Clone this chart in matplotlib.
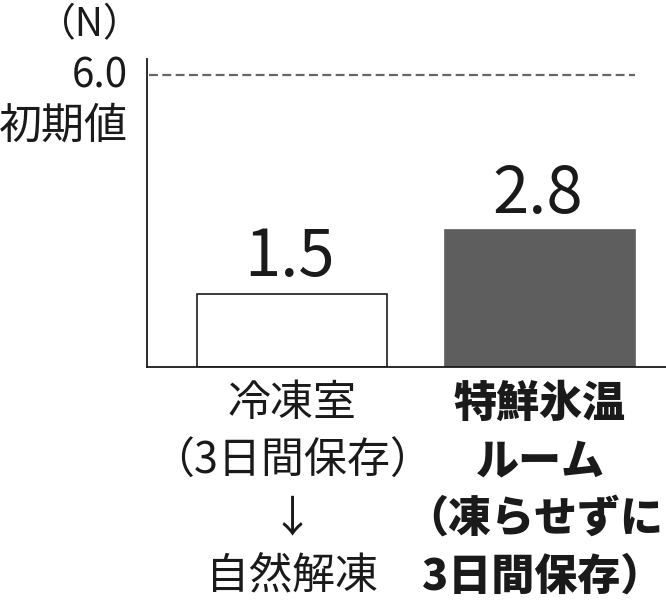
import matplotlib
matplotlib.use("Agg")
import matplotlib.pyplot as plt

plt.rcParams['font.family'] = ['Noto Sans CJK JP', 'DejaVu Sans']

# data
categories = [
    ["冷凍室", "（3日間保存）", "↓", "自然解凍"],
    ["特鮮氷温", "ルーム", "（凍らせずに", "3日間保存）"],
]
values = [1.5, 2.8]
value_labels = ["1.5", "2.8"]
initial_value = 6.0
initial_label = "6.0"
initial_name = "初期値"
unit_label = "（N）"

bar_faces = ["white", "#5e5e5e"]
bar_edges = ["#1a1a1a", "#5e5e5e"]
label_weights = ["normal", "heavy"]

fig = plt.figure(figsize=(6.66, 6.09), dpi=100)
W, H = 666, 609
ax_left, ax_right, ax_bottom, ax_top = 147, 666, 366.5, 59
ax = fig.add_axes([ax_left / W, (H - ax_bottom) / H,
                   (ax_right - ax_left) / W, (ax_bottom - ax_top) / H])

x = list(range(len(values)))
ax.bar(x, values, width=0.766, color=bar_faces, edgecolor=bar_edges,
       linewidth=1.2, zorder=2)
ax.set_xlim(-0.585, 1.508)
ax.set_ylim(0, 6.33)

ax.axhline(initial_value, xmin=0.004, xmax=0.94, color="#666666",
           linewidth=1.6, linestyle=(0, (4, 2)), zorder=1)

for s in ["top", "right"]:
    ax.spines[s].set_visible(False)
for s in ["left", "bottom"]:
    ax.spines[s].set_linewidth(1.3)
    ax.spines[s].set_color("#1a1a1a")
ax.set_xticks([])
ax.set_yticks([])

# value labels
for xi, v, lab in zip(x, values, value_labels):
    ax.annotate(lab, xy=(xi, v), xytext=(-2, 12.5), textcoords="offset points",
                ha="center", va="baseline", fontsize=47, color="#1a1a1a")

# y annotations
ax.annotate(initial_label, xy=(0, initial_value), xycoords=("axes fraction", "data"),
            xytext=(-14, -1), textcoords="offset points", ha="right", va="center",
            fontsize=29, color="#1a1a1a")
ax.annotate(initial_name, xy=(0, initial_value), xycoords=("axes fraction", "data"),
            xytext=(-14, -37), textcoords="offset points", ha="right", va="center",
            fontsize=31, color="#1a1a1a")
fig.text(90 / W, 1 - 25 / H, unit_label, ha="center", va="center",
         fontsize=28, color="#1a1a1a")

# category labels
for xi, lines, wt in zip(x, categories, label_weights):
    for k, line in enumerate(lines):
        if xi == 1 and k >= 2:
            # long lines of the right label sit flush with the figure's right edge
            ax.annotate(line, xy=(1.0, 0), xycoords=("axes fraction", "data"),
                        xytext=(-2, -27 - 41.5 * k),
                        textcoords="offset points", ha="right", va="center",
                        fontsize=31, fontweight=wt, color="#1a1a1a",
                        annotation_clip=False)
        else:
            ax.annotate(line, xy=(xi, 0), xytext=(0, -27 - 41.5 * k),
                        textcoords="offset points", ha="center", va="center",
                        fontsize=31, fontweight=wt, color="#1a1a1a",
                        annotation_clip=False)

fig.savefig("out.png", dpi=100)
